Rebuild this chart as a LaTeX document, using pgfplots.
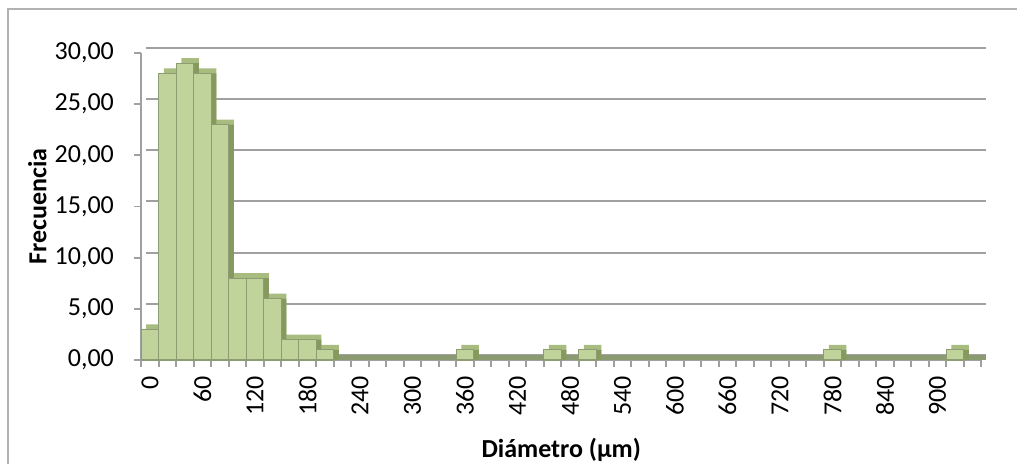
\documentclass[border=0pt]{standalone}
\usepackage{fontspec}
\setmainfont{Carlito}
\usepackage{pgfplots}
\pgfplotsset{compat=1.18}
\definecolor{barfront}{HTML}{C0D39A}
\definecolor{bartop}{HTML}{A8BC80}
\definecolor{barside}{HTML}{869A60}
\definecolor{baredge}{HTML}{8E9C74}
\definecolor{floorc}{HTML}{8C9A72}
\definecolor{gridc}{HTML}{A0A0A0}

% frecuencia por clase (indice de clase, ancho 20 um)
\pgfplotstableread{
x y
0 3
1 28
2 29
3 28
4 23
5 8
6 8
7 6
8 2
9 2
10 1
18 1
23 1
25 1
39 1
46 1
}\datos

\begin{document}
\begin{tikzpicture}
\useasboundingbox (0,0) rectangle (508.5pt,232pt);
\draw[gray!60, line width=0.6pt] (4pt,0) -- (4pt,227.5pt) -- (508.5pt,227.5pt);
\begin{axis}[
    at={(70.625pt,52pt)}, anchor=south west,
    scale only axis,
    width=420pt, height=153.5pt,
    xmin=-0.5, xmax=47.5,
    ymin=0, ymax=30,
    ybar, bar width=8.75pt, bar shift=0pt,
    axis lines=left,
    axis line style={-, draw=gridc, line width=0.9pt},
    tick style={draw=gridc, line width=0.9pt},
    tick align=outside,
    major tick length=3.5pt,
    xtick={-0.5,0.5,...,47.5},
    xticklabels={},
    extra x ticks={0,3,...,45},
    extra x tick labels={0,60,120,180,240,300,360,420,480,540,600,660,720,780,840,900},
    extra x tick style={major tick length=0pt, grid=none},
    xticklabel style={yshift=-8pt, rotate=90, anchor=east, inner sep=0pt, font=\fontsize{13}{15}\selectfont},
    ytick={0,5,...,30},
    yticklabel style={anchor=east, inner sep=0pt, xshift=-10pt, font=\fontsize{13}{15}\selectfont},
    /pgf/number format/.cd, fixed, fixed zerofill, precision=2, use comma, assume math mode=true,
    /pgfplots/.cd,
    ymajorgrids,
    major grid style={draw=gridc, line width=1pt, xshift=2.5pt, yshift=2.5pt},
    xlabel={\bfseries Diámetro (µm)},
    ylabel={\bfseries Frecuencia},
    every axis x label/.style={at={(axis description cs:0.5,0)}, yshift=-45pt, anchor=center, font=\fontsize{13}{15}\selectfont},
    every axis y label/.style={at={(axis description cs:0,0.5)}, xshift=-52pt, rotate=90, anchor=center, font=\fontsize{13}{15}\selectfont},
    clip=false,
]
\fill[floorc] (axis cs:-0.5,0) rectangle ([xshift=2.5pt,yshift=2.5pt]axis cs:47.5,0);
\addplot[fill=bartop, draw=none, bar shift=2.5pt, yshift=2.5pt] table[x=x,y=y] {\datos};
\addplot[fill=barside, draw=none, bar shift=2.5pt] table[x=x,y=y] {\datos};
\addplot[fill=barfront, draw=baredge, line width=0.6pt] table[x=x,y=y] {\datos};
\end{axis}
\end{tikzpicture}
\end{document}
